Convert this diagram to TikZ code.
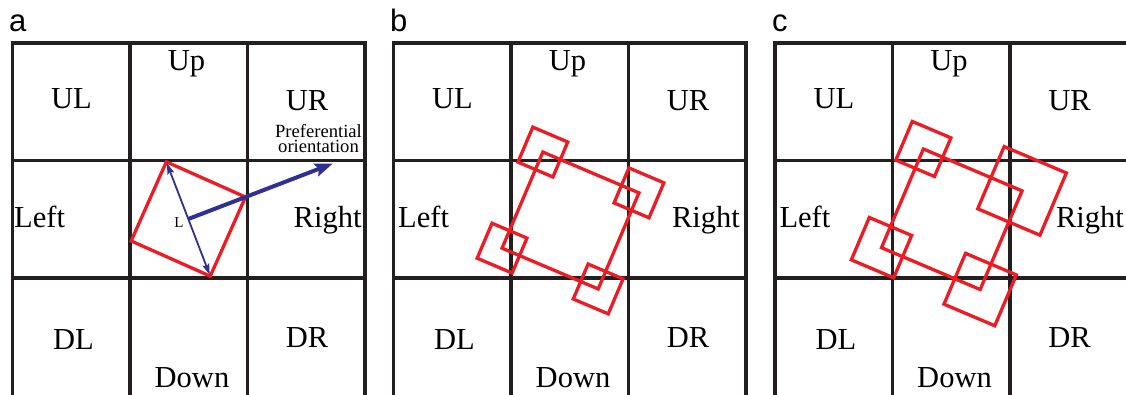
\documentclass[tikz,border=0pt]{standalone}
\usepackage{fontspec}
\setmainfont{Liberation Serif}
\newfontfamily\panelfont{Liberation Sans}
\usetikzlibrary{arrows.meta,calc}
\definecolor{gridblack}{RGB}{35,31,32}
\definecolor{sqred}{RGB}{237,28,36}
\definecolor{arrblue}{RGB}{46,49,146}
\tikzset{
  gridline/.style={draw=gridblack,line width=3.8pt},
  redsq/.style={draw=sqred,line width=3.3pt,line join=miter},
  celltext/.style={font=\fontsize{30.5}{36}\selectfont,inner sep=0pt,anchor=base},
  paneltag/.style={font=\panelfont\fontsize{31}{36}\selectfont,inner sep=0pt,anchor=base west},
  thickarrow/.style={draw=arrblue,line width=4pt,-{Stealth[length=18pt,width=13pt,inset=3pt]}},
  thinarrow/.style={draw=arrblue,line width=1.8pt,{Stealth[length=11pt,width=7pt,inset=2pt]}-{Stealth[length=11pt,width=7pt,inset=2pt]},shorten <=1.5pt,shorten >=1.5pt},
}
% #1 x0, #2 prefix, #3 left text offset, #4 right text offset
\newcommand\drawpanel[4]{%
  \draw[gridline,line join=miter] (#1,398) -- (#1,43) -- ({#1+352.5},43) -- ({#1+352.5},398);
  \draw[gridline] ({#1+117.5},43) -- ({#1+117.5},398);
  \draw[gridline] ({#1+235},43) -- ({#1+235},398);
  \draw[gridline] (#1,160.5) -- ({#1+352.5},160.5);
  \draw[gridline] (#1,278) -- ({#1+352.5},278);
  \node[celltext] (#2ul) at ({#1+59},109) {UL};
  \node[celltext] (#2up) at ({#1+174},71) {Up};
  \node[celltext] (#2ur) at ({#1+294.5},111) {UR};
  \node[celltext,anchor=base west] (#2left) at ({#1+#3},228) {Left};
  \node[celltext,anchor=base east] (#2right) at ({#1+#4},228) {Right};
  \node[celltext] (#2dl) at ({#1+61},349) {DL};
  \node[celltext] (#2dr) at ({#1+294.5},347) {DR};
  \node[celltext] (#2down) at ({#1+179.5},387) {Down};
}
% square centred at (#1,#2), half side #3 (inside a rotated scope)
\newcommand\sqat[3]{%
  \draw[redsq] ({#1-#3},{#2-#3}) -- ({#1+#3},{#2-#3}) -- ({#1+#3},{#2+#3}) -- ({#1-#3},{#2+#3}) -- cycle;
}
\begin{document}
\begin{tikzpicture}[x=1pt,y=-1pt]
\useasboundingbox (0,0) rectangle (1126,395);
% panel tags
\node[paneltag] (taga) at (9,32) {a};
\node[paneltag] (tagb) at (390,32) {b};
\node[paneltag] (tagc) at (772,32) {c};
% grids
\drawpanel{12.5}{a}{1.5}{349.2}
\drawpanel{393.5}{b}{4.5}{346.5}
\drawpanel{775}{c}{4.3}{349}
% panel a
\begin{scope}[shift={(188.3,219)},rotate=-24]
  \sqat{0}{0}{43.3}
  \coordinate (aL) at (0,0);
  \coordinate (atop) at (-43.3,-43.3);
  \coordinate (aright) at (43.3,-43.3);
  \coordinate (abottom) at (43.3,43.3);
\end{scope}
\coordinate (atip) at ($(aL)!2.53!(aright)$);
\draw[thinarrow] (atop) -- (abottom);
\draw[thickarrow] (aL) -- (atip);
\node[font=\fontsize{15}{18}\selectfont,inner sep=0pt,anchor=base] (Llab) at (179,228) {L};
\node[font=\fontsize{18.6}{15}\selectfont,inner sep=0pt,anchor=base,align=center] (pref) at (318.5,153) {Preferential\\orientation};
% panel b
\begin{scope}[shift={(570.5,220.5)},rotate=-23]
  \sqat{0}{0}{52.2}
  \sqat{-52.2}{-52.2}{19}
  \sqat{52.2}{-52.2}{19}
  \sqat{52.2}{52.2}{19}
  \sqat{-52.2}{52.2}{19}
\end{scope}
% panel c
\begin{scope}[shift={(951.75,219.25)},rotate=-23]
  \sqat{0}{0}{53.6}
  \sqat{-53.6}{-53.6}{21}
  \sqat{53.6}{-53.6}{33.8}
  \sqat{53.6}{53.6}{27.6}
  \sqat{-53.6}{53.6}{23}
\end{scope}
\end{tikzpicture}
\end{document}
